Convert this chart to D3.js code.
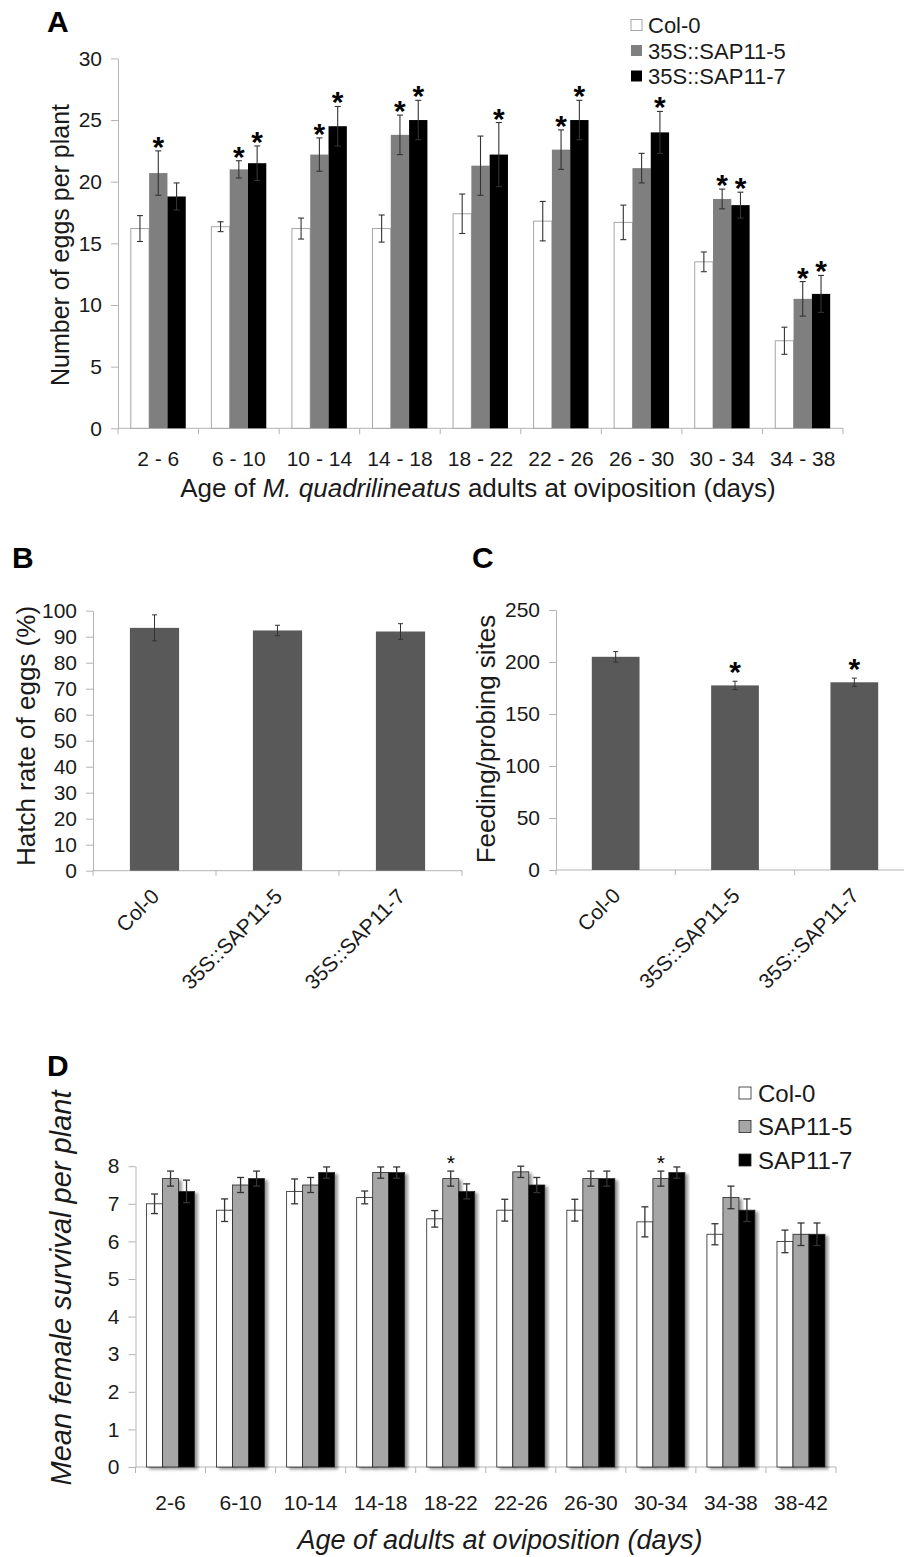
<!DOCTYPE html>
<html>
<head>
<meta charset="utf-8">
<script src="https://cdn.jsdelivr.net/npm/d3@7"></script>
<style>
  body { margin: 0; background: #fff; }
  svg { display: block; }
</style>
</head>
<body>
<script>
// ---- data ----
const agesA = ['2 - 6', '6 - 10', '10 - 14', '14 - 18', '18 - 22', '22 - 26', '26 - 30', '30 - 34', '34 - 38'];
const seriesA = ['Col-0', '35S::SAP11-5', '35S::SAP11-7'];
const eggsCol = [16.2, 16.35, 16.2, 16.2, 17.4, 16.8, 16.7, 13.5, 7.1];
const eggsColErr = [1.05, 0.4, 0.85, 1.1, 1.6, 1.6, 1.4, 0.8, 1.1];
const eggs5 = [20.7, 21.0, 22.2, 23.8, 21.3, 22.6, 21.1, 18.6, 10.5];
const eggs5Err = [1.8, 0.7, 1.35, 1.6, 2.4, 1.6, 1.2, 0.8, 1.4];
const eggs7 = [18.8, 21.5, 24.5, 25.0, 22.2, 25.0, 24.0, 18.1, 10.9];
const eggs7Err = [1.1, 1.4, 1.6, 1.6, 2.6, 1.6, 1.7, 1.05, 1.5];
const eggs5Sig = [1, 1, 1, 1, 0, 1, 0, 1, 1];
const eggs7Sig = [0, 1, 1, 1, 1, 1, 1, 1, 1];
const ticksA = [0, 5, 10, 15, 20, 25, 30];

const linesBC = ['Col-0', '35S::SAP11-5', '35S::SAP11-7'];
const hatch = [93.4, 92.4, 92.0];
const hatchErr = [5, 2, 3];
const ticksB = [0, 10, 20, 30, 40, 50, 60, 70, 80, 90, 100];
const feeding = [205, 177.5, 180.5];
const feedingErr = [5, 4, 4];
const feedingSig = [0, 1, 1];
const ticksC = [0, 50, 100, 150, 200, 250];

const agesD = ['2-6', '6-10', '10-14', '14-18', '18-22', '22-26', '26-30', '30-34', '34-38', '38-42'];
const seriesD = ['Col-0', 'SAP11-5', 'SAP11-7'];
const survCol = [7.0, 6.83, 7.33, 7.17, 6.6, 6.83, 6.83, 6.52, 6.19, 6.0];
const survColErr = [0.26, 0.3, 0.33, 0.17, 0.22, 0.29, 0.29, 0.4, 0.28, 0.3];
const surv5 = [7.67, 7.5, 7.5, 7.83, 7.67, 7.85, 7.67, 7.67, 7.17, 6.19];
const surv5Err = [0.2, 0.2, 0.2, 0.15, 0.2, 0.15, 0.2, 0.2, 0.3, 0.3];
const surv7 = [7.33, 7.67, 7.83, 7.83, 7.33, 7.5, 7.67, 7.83, 6.83, 6.19];
const surv7Err = [0.3, 0.2, 0.15, 0.15, 0.2, 0.2, 0.2, 0.15, 0.3, 0.3];
const surv5Sig = [0, 0, 0, 0, 1, 0, 0, 1, 0, 0];
const ticksD = [0, 1, 2, 3, 4, 5, 6, 7, 8];

// ---- setup ----
const font = '"Liberation Sans", Arial, Helvetica, sans-serif';
const axisGray = '#b3b3b3';
const textCol = '#1a1a1a';
const errCol = '#333';

const svg = d3.select('body').append('svg')
    .attr('width', 904)
    .attr('height', 1557)
    .attr('font-family', font);

const defs = svg.append('defs');
const shadow = defs.append('filter').attr('id', 'shadow')
    .attr('x', '-30%').attr('y', '-10%').attr('width', '160%').attr('height', '120%');
shadow.append('feDropShadow')
    .attr('dx', 3).attr('dy', 2).attr('stdDeviation', 1.6)
    .attr('flood-color', '#000').attr('flood-opacity', 0.4);

function yAxis(scale, x0, ticks, fontSize) {
    const g = svg.append('g')
        .attr('transform', `translate(${x0},0)`)
        .call(d3.axisLeft(scale).tickValues(ticks).tickSize(7).tickPadding(9).tickSizeOuter(0));
    g.attr('font-family', font).attr('font-size', fontSize);
    g.select('.domain').attr('stroke', axisGray);
    g.selectAll('.tick line').attr('stroke', axisGray);
    g.selectAll('.tick text').attr('fill', textCol);
    return g;
}

function xAxisLine(scale, y0, tickLen) {
    const [a, b] = scale.range();
    const n = scale.domain().length;
    const g = svg.append('g');
    g.append('line').attr('x1', a).attr('x2', b).attr('y1', y0).attr('y2', y0)
        .attr('stroke', axisGray);
    g.selectAll('line.b').data(d3.range(n + 1)).join('line')
        .attr('class', 'b')
        .attr('x1', i => a + i * scale.step()).attr('x2', i => a + i * scale.step())
        .attr('y1', y0).attr('y2', y0 + tickLen)
        .attr('stroke', axisGray);
    return g;
}

function errorBars(g, rows, capHalf, width) {
    const e = g.selectAll('g.err').data(rows).join('g').attr('class', 'err')
        .attr('stroke', errCol).attr('stroke-width', width);
    e.append('line').attr('x1', d => d.x).attr('x2', d => d.x).attr('y1', d => d.top).attr('y2', d => d.bot);
    e.append('line').attr('x1', d => d.x - capHalf).attr('x2', d => d.x + capHalf).attr('y1', d => d.top).attr('y2', d => d.top);
    e.append('line').attr('x1', d => d.x - capHalf).attr('x2', d => d.x + capHalf).attr('y1', d => d.bot).attr('y2', d => d.bot);
}

function panelLabel(t, x, y) {
    svg.append('text').attr('x', x).attr('y', y).text(t)
        .attr('font-size', 30).attr('font-weight', 'bold').attr('fill', '#000');
}

function yTitle(t, x, y, size, italic) {
    svg.append('text').attr('transform', `translate(${x},${y}) rotate(-90)`)
        .attr('text-anchor', 'middle').attr('font-size', size)
        .attr('font-style', italic ? 'italic' : 'normal')
        .attr('fill', textCol).text(t);
}

// ---- panel A ----
panelLabel('A', 47, 32);
const xA = d3.scaleBand().domain(agesA).range([118, 843]);
const subA = d3.scaleBand().domain(seriesA).range([0, xA.bandwidth()]).paddingOuter(0.7);
const yA = d3.scaleLinear().domain([0, 30]).range([428.3, 58.4]);
const fillA = ['#fff', '#7f7f7f', '#000'];
const strokeA = ['#a6a6a6', 'none', 'none'];

const rowsA = [];
agesA.forEach((age, i) => {
    [[eggsCol, eggsColErr, null], [eggs5, eggs5Err, eggs5Sig], [eggs7, eggs7Err, eggs7Sig]].forEach((s, k) => {
        rowsA.push({ age, k, v: s[0][i], e: s[1][i], sig: s[2] ? s[2][i] : 0 });
    });
});

yAxis(yA, 118, ticksA, 21);
xAxisLine(xA, 428.3, 6);

const gA = svg.append('g');
gA.selectAll('rect').data(rowsA).join('rect')
    .attr('x', d => xA(d.age) + subA(seriesA[d.k]))
    .attr('y', d => yA(d.v))
    .attr('width', subA.bandwidth())
    .attr('height', d => yA(0) - yA(d.v))
    .attr('fill', d => fillA[d.k])
    .attr('stroke', d => strokeA[d.k]);
errorBars(gA, rowsA.map(d => ({
    x: xA(d.age) + subA(seriesA[d.k]) + subA.bandwidth() / 2,
    top: yA(d.v + d.e), bot: yA(d.v - d.e)
})), 3, 1.1);
gA.selectAll('text.star').data(rowsA.filter(d => d.sig)).join('text')
    .attr('class', 'star')
    .attr('x', d => xA(d.age) + subA(seriesA[d.k]) + subA.bandwidth() / 2)
    .attr('y', d => yA(d.v + d.e) + 6)
    .attr('text-anchor', 'middle').attr('font-size', 30).attr('font-weight', 'bold')
    .text('*');

svg.append('g').selectAll('text').data(agesA).join('text')
    .attr('x', d => xA(d) + xA.bandwidth() / 2)
    .attr('y', 466)
    .attr('text-anchor', 'middle').attr('font-size', 21).attr('fill', textCol)
    .text(d => d);

const tA = svg.append('text').attr('x', 478).attr('y', 497).attr('text-anchor', 'middle')
    .attr('font-size', 26).attr('fill', textCol);
tA.append('tspan').text('Age of  ');
tA.append('tspan').attr('font-style', 'italic').text('M. quadrilineatus');
tA.append('tspan').text(' adults at oviposition (days)');
yTitle('Number of eggs per plant', 69, 245, 25, false);

const legA = svg.append('g').selectAll('g').data(seriesA).join('g')
    .attr('transform', (d, i) => `translate(631,${25 + i * 25.5})`);
legA.append('rect').attr('x', 0).attr('y', -5.5).attr('width', 11).attr('height', 11)
    .attr('fill', (d, i) => fillA[i]).attr('stroke', (d, i) => i === 0 ? '#a6a6a6' : 'none');
legA.append('text').attr('x', 17).attr('y', 8).attr('font-size', 22).attr('fill', textCol).text(d => d);

// ---- panels B and C ----
function simpleBars(opts) {
    const x = d3.scaleBand().domain(linesBC).range(opts.xr).paddingInner(0.6).paddingOuter(0.3);
    const y = d3.scaleLinear().domain(opts.dom).range(opts.yr);
    yAxis(y, opts.xr[0], opts.ticks, 21);
    const xl = d3.scaleBand().domain(linesBC).range(opts.xr);
    xAxisLine(xl, opts.yr[0], 5);
    const g = svg.append('g');
    const rows = linesBC.map((c, i) => ({ c, v: opts.vals[i], e: opts.errs[i], sig: opts.sig ? opts.sig[i] : 0 }));
    g.selectAll('rect').data(rows).join('rect')
        .attr('x', d => x(d.c)).attr('y', d => y(d.v))
        .attr('width', x.bandwidth()).attr('height', d => y(0) - y(d.v))
        .attr('fill', '#595959');
    errorBars(g, rows.map(d => ({ x: x(d.c) + x.bandwidth() / 2, top: y(d.v + d.e), bot: y(d.v - d.e) })), 2.5, 1);
    g.selectAll('text.star').data(rows.filter(d => d.sig)).join('text')
        .attr('x', d => x(d.c) + x.bandwidth() / 2)
        .attr('y', d => y(d.v + d.e) + 1)
        .attr('text-anchor', 'middle').attr('font-size', 30).attr('font-weight', 'bold')
        .text('*');
    svg.append('g').selectAll('text').data(linesBC).join('text')
        .attr('transform', d => `translate(${x(d) + x.bandwidth() / 2 + 6},${opts.yr[0] + 27}) rotate(-45)`)
        .attr('text-anchor', 'end').attr('font-size', 21).attr('fill', textCol)
        .text(d => d);
}

panelLabel('B', 12, 568);
simpleBars({ xr: [93, 462], yr: [870.7, 610.7], dom: [0, 100], ticks: ticksB, vals: hatch, errs: hatchErr });
yTitle('Hatch rate of eggs (%)', 35, 736, 26, false);

panelLabel('C', 472, 568);
simpleBars({ xr: [556, 914], yr: [870, 610], dom: [0, 250], ticks: ticksC, vals: feeding, errs: feedingErr, sig: feedingSig });
yTitle('Feeding/probing sites', 495, 739, 26, false);

// ---- panel D ----
panelLabel('D', 47, 1076);
const xD = d3.scaleBand().domain(agesD).range([135.5, 836]);
const subD = d3.scaleBand().domain(seriesD).range([0, xD.bandwidth()]).paddingOuter(0.69);
const yD = d3.scaleLinear().domain([0, 8]).range([1467, 1166.2]);
const fillD = ['#fff', '#a6a6a6', '#000'];

const rowsD = [];
agesD.forEach((age, i) => {
    [[survCol, survColErr, null], [surv5, surv5Err, surv5Sig], [surv7, surv7Err, null]].forEach((s, k) => {
        rowsD.push({ age, k, v: s[0][i], e: s[1][i], sig: s[2] ? s[2][i] : 0 });
    });
});

yAxis(yD, 135.5, ticksD, 21);
xAxisLine(xD, 1467, 6);

const gD = svg.append('g');
gD.selectAll('rect').data(rowsD).join('rect')
    .attr('x', d => xD(d.age) + subD(seriesD[d.k]))
    .attr('y', d => yD(d.v))
    .attr('width', subD.bandwidth())
    .attr('height', d => yD(0) - yD(d.v))
    .attr('fill', d => fillD[d.k])
    .attr('stroke', '#262626').attr('stroke-width', 0.8)
    .attr('filter', 'url(#shadow)');
errorBars(gD, rowsD.map(d => ({
    x: xD(d.age) + subD(seriesD[d.k]) + subD.bandwidth() / 2,
    top: yD(d.v + d.e), bot: yD(d.v - d.e)
})), 3.5, 1.3);
gD.selectAll('text.star').data(rowsD.filter(d => d.sig)).join('text')
    .attr('class', 'star')
    .attr('x', d => xD(d.age) + subD(seriesD[d.k]) + subD.bandwidth() / 2)
    .attr('y', d => yD(d.v + d.e) - 1)
    .attr('text-anchor', 'middle').attr('font-size', 21)
    .text('*');

svg.append('g').selectAll('text').data(agesD).join('text')
    .attr('x', d => xD(d) + xD.bandwidth() / 2)
    .attr('y', 1510)
    .attr('text-anchor', 'middle').attr('font-size', 21).attr('fill', textCol)
    .text(d => d);
svg.append('text').attr('x', 500).attr('y', 1549).attr('text-anchor', 'middle')
    .attr('font-size', 27).attr('font-style', 'italic').attr('fill', textCol)
    .text('Age of adults at oviposition (days)');
yTitle('Mean female survival per plant', 71, 1288, 29, true);

const legD = svg.append('g').selectAll('g').data(seriesD).join('g')
    .attr('transform', (d, i) => `translate(739,${1093 + i * 33.5})`);
legD.append('rect').attr('x', 0).attr('y', -6).attr('width', 12).attr('height', 12)
    .attr('fill', (d, i) => fillD[i]).attr('stroke', '#262626').attr('stroke-width', 0.8);
legD.append('text').attr('x', 19).attr('y', 8.5).attr('font-size', 24).attr('fill', textCol).text(d => d);
</script>
</body>
</html>
